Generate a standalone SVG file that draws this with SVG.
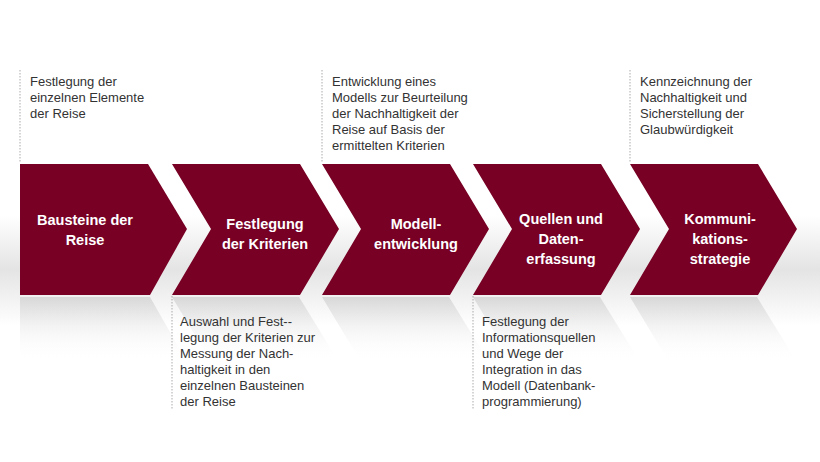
<svg xmlns="http://www.w3.org/2000/svg" width="820" height="462" viewBox="0 0 820 462">
<defs>
<linearGradient id="band" x1="0" y1="0" x2="0" y2="1"><stop offset="0" stop-color="#fff"/><stop offset="0.5" stop-color="#e4e4e4"/><stop offset="1" stop-color="#fff"/></linearGradient>
<linearGradient id="refl" x1="0" y1="0" x2="0" y2="1"><stop offset="0" stop-color="#d8d8d8"/><stop offset="1" stop-color="#fff" stop-opacity="0"/></linearGradient>
<style>
.chev{fill:#770024}
.lbl{font-family:"Liberation Sans",Arial,sans-serif;font-size:14.5px;font-weight:bold;fill:#fff;text-anchor:middle}
.desc{font-family:"Liberation Sans",Arial,sans-serif;font-size:13px;fill:#333}
.dash{stroke:#aaa;stroke-width:1;stroke-dasharray:1.5 1.5;fill:none}
.rf{fill:url(#refl)}
</style>
</defs>
<rect x="0" y="215" width="820" height="110" fill="url(#band)"/>
<g id="reflections">
<path class="rf" d="M20 297 H150 L187 362 H20 Z"/>
<path class="rf" d="M172 297 H299 L339 362 H211 Z"/>
<path class="rf" d="M322 297 H449 L489 362 H361 Z"/>
<path class="rf" d="M473 297 H600 L640 362 H512 Z"/>
<path class="rf" d="M630 297 H757 L797 362 H669 Z"/>
</g>
<g id="connectors">
<line class="dash" x1="20" y1="70" x2="20" y2="163"/>
<line class="dash" x1="322" y1="70" x2="322" y2="163"/>
<line class="dash" x1="630" y1="70" x2="630" y2="163"/>
<line class="dash" x1="172" y1="296" x2="172" y2="410"/>
<line class="dash" x1="473" y1="296" x2="473" y2="410"/>
</g>
<g id="n1"><path class="chev" d="M20 164 H148 L187 229 L150 295 H20 Z"/><text class="lbl" x="85" y="225">Bausteine der</text><text class="lbl" x="85" y="245">Reise</text></g>
<g id="n2"><path class="chev" d="M172 164 H300 L339 229 L300 295 H172 L211 229 Z"/><text class="lbl" x="265" y="229">Festlegung</text><text class="lbl" x="265" y="249">der Kriterien</text></g>
<g id="n3"><path class="chev" d="M322 164 H450 L489 229 L450 295 H322 L361 229 Z"/><text class="lbl" x="416" y="229">Modell-</text><text class="lbl" x="416" y="249">entwicklung</text></g>
<g id="n4"><path class="chev" d="M473 164 H601 L640 229 L601 295 H473 L512 229 Z"/><text class="lbl" x="561" y="224">Quellen und</text><text class="lbl" x="561" y="244">Daten-</text><text class="lbl" x="561" y="264">erfassung</text></g>
<g id="n5"><path class="chev" d="M630 164 H758 L797 229 L758 295 H630 L669 229 Z"/><text class="lbl" x="720" y="224">Kommuni-</text><text class="lbl" x="720" y="244">kations-</text><text class="lbl" x="720" y="264">strategie</text></g>
<g id="d1"><text class="desc" x="30" y="86">Festlegung der</text><text class="desc" x="30" y="102">einzelnen Elemente</text><text class="desc" x="30" y="118">der Reise</text></g>
<g id="d3"><text class="desc" x="332" y="86">Entwicklung eines</text><text class="desc" x="332" y="102">Modells zur Beurteilung</text><text class="desc" x="332" y="118">der Nachhaltigkeit der</text><text class="desc" x="332" y="134">Reise auf Basis der</text><text class="desc" x="332" y="150">ermittelten Kriterien</text></g>
<g id="d5"><text class="desc" x="640" y="86">Kennzeichnung der</text><text class="desc" x="640" y="102">Nachhaltigkeit und</text><text class="desc" x="640" y="118">Sicherstellung der</text><text class="desc" x="640" y="134">Glaubwürdigkeit</text></g>
<g id="d2"><text class="desc" x="180" y="326">Auswahl und Fest--</text><text class="desc" x="180" y="342">legung der Kriterien zur</text><text class="desc" x="180" y="358">Messung der Nach-</text><text class="desc" x="180" y="374">haltigkeit in den</text><text class="desc" x="180" y="390">einzelnen Bausteinen</text><text class="desc" x="180" y="406">der Reise</text></g>
<g id="d4"><text class="desc" x="482" y="326">Festlegung der</text><text class="desc" x="482" y="342">Informationsquellen</text><text class="desc" x="482" y="358">und Wege der</text><text class="desc" x="482" y="374">Integration in das</text><text class="desc" x="482" y="390">Modell (Datenbank-</text><text class="desc" x="482" y="406">programmierung)</text></g>
</svg>
